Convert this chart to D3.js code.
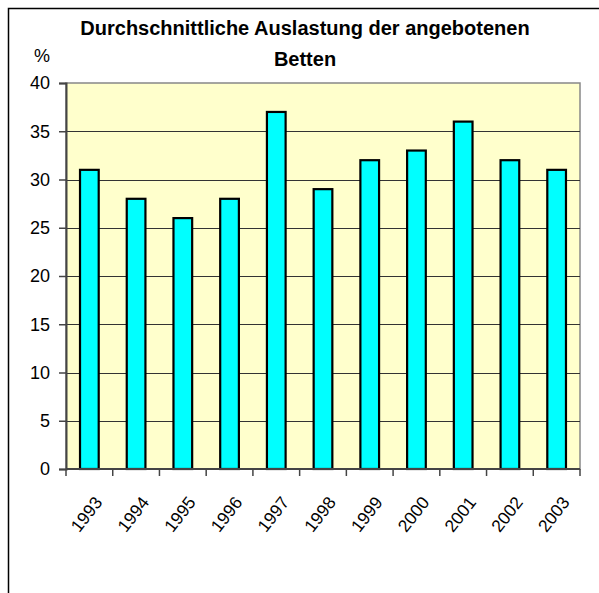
<!DOCTYPE html>
<html>
<head>
<meta charset="utf-8">
<script src="https://cdn.jsdelivr.net/npm/d3@7"></script>
<style>
  body { margin: 0; background: #fff; }
  svg { display: block; font-family: "Liberation Sans", Arial, sans-serif; }
</style>
</head>
<body>
<svg id="chart" width="599" height="593"></svg>
<script>
// chart data
const years = ["1993", "1994", "1995", "1996", "1997", "1998", "1999", "2000", "2001", "2002", "2003"];
const auslastung = [31, 28, 26, 28, 37, 29, 32, 33, 36, 32, 31];
const yTicks = [0, 5, 10, 15, 20, 25, 30, 35, 40];
const titleLines = ["Durchschnittliche Auslastung der angebotenen", "Betten"];

const svg = d3.select("#chart");
const plotL = 66, plotR = 580, plotT = 83, plotB = 469;

// outer frame (runs off the right and bottom edge)
svg.append("rect")
  .attr("x", 8.5).attr("y", 8.5)
  .attr("width", 620).attr("height", 620)
  .attr("fill", "#fff").attr("stroke", "#000").attr("stroke-width", 1.5);

const x = d3.scaleBand().domain(years).range([plotL, plotR]).paddingInner(0).paddingOuter(0);
const y = d3.scaleLinear().domain([0, 40]).range([plotB, plotT]);

// plot area
svg.append("rect")
  .attr("x", plotL).attr("y", plotT)
  .attr("width", plotR - plotL).attr("height", plotB - plotT)
  .attr("fill", "#FFFFCC").attr("stroke", "#888").attr("stroke-width", 1.5);

// gridlines
svg.append("g")
  .selectAll("line")
  .data(yTicks.filter(d => d > 0 && d < 40))
  .enter().append("line")
  .attr("x1", plotL).attr("x2", plotR)
  .attr("y1", d => Math.round(y(d)) + 0.5).attr("y2", d => Math.round(y(d)) + 0.5)
  .attr("stroke", "#333").attr("stroke-width", 1);

// bars
const bw = x.bandwidth() / 2.5;
svg.append("g")
  .selectAll("rect")
  .data(auslastung)
  .enter().append("rect")
  .attr("x", (d, i) => x(years[i]) + (x.bandwidth() - bw) / 2)
  .attr("y", d => y(d))
  .attr("width", bw)
  .attr("height", d => plotB - y(d))
  .attr("fill", "#00FFFF").attr("stroke", "#000").attr("stroke-width", 2.2);

// y axis
const yAxis = svg.append("g")
  .attr("transform", "translate(" + plotL + ",0)")
  .call(d3.axisLeft(y).tickValues(yTicks).tickSize(7).tickPadding(9));
yAxis.select(".domain").attr("stroke", "#444").attr("stroke-width", 2);
yAxis.selectAll(".tick line").attr("stroke", "#444").attr("stroke-width", 1.5);
yAxis.selectAll("text").attr("font-size", 18).attr("fill", "#000")
  .attr("font-family", "Liberation Sans, Arial, sans-serif");

// x axis: ticks on category boundaries
const xAxis = svg.append("g").attr("transform", "translate(0," + plotB + ")");
xAxis.append("line")
  .attr("x1", plotL).attr("x2", plotR).attr("y1", 0).attr("y2", 0)
  .attr("stroke", "#444").attr("stroke-width", 2);
xAxis.selectAll(".tk")
  .data(years.concat(["end"]))
  .enter().append("line")
  .attr("x1", (d, i) => plotL + i * x.step()).attr("x2", (d, i) => plotL + i * x.step())
  .attr("y1", 0).attr("y2", 7)
  .attr("stroke", "#444").attr("stroke-width", 1.5);
xAxis.selectAll("text")
  .data(years)
  .enter().append("text")
  .attr("transform", d => "translate(" + (x(d) + x.bandwidth() / 2 + 4) + ",26) rotate(-52)")
  .attr("text-anchor", "end")
  .attr("dy", "0.71em")
  .attr("font-size", 17.5)
  .text(d => d);

// title
svg.append("g").selectAll("text")
  .data(titleLines)
  .enter().append("text")
  .attr("x", 305).attr("y", (d, i) => 35 + i * 31)
  .attr("text-anchor", "middle")
  .attr("font-size", 20).attr("font-weight", "bold")
  .text(d => d);

// unit label
svg.append("text")
  .attr("x", 42).attr("y", 62)
  .attr("text-anchor", "middle")
  .attr("font-size", 18)
  .text("%");
</script>
</body>
</html>
